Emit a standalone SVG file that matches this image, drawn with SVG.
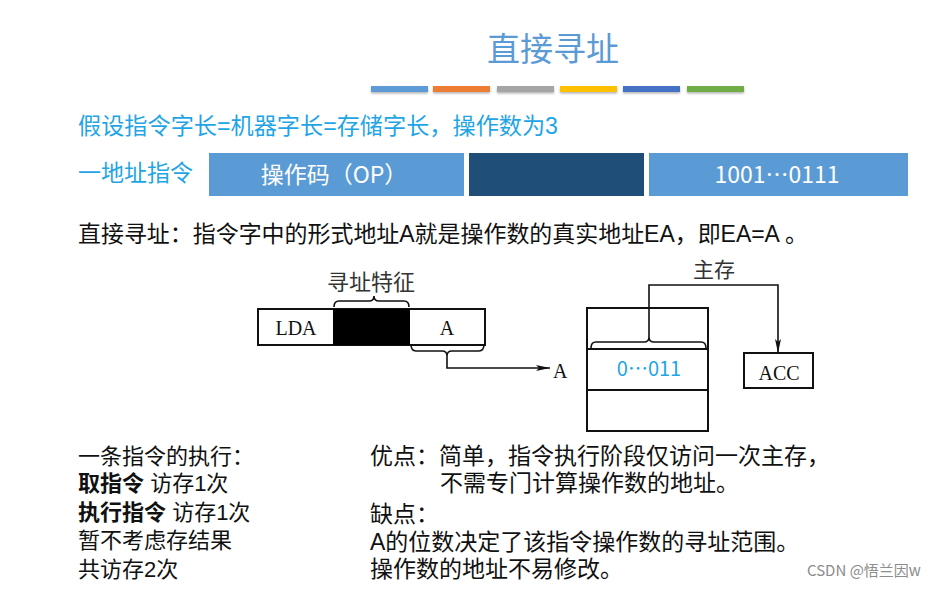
<svg xmlns="http://www.w3.org/2000/svg" width="940" height="589" viewBox="0 0 940 589">
<style>
.cjk{font-family:"Noto Sans CJK SC","Microsoft YaHei",sans-serif;}
.body{font-family:"Liberation Sans","Noto Sans CJK SC",sans-serif;}
.cyan{fill:#1FA5E6;}
.blk{fill:#111;}
.ser{font-family:"Liberation Serif","Times New Roman",serif;fill:#111;font-size:20px;}
.ln{fill:none;stroke:#111;stroke-width:2;}
.thin{fill:none;stroke:#111;stroke-width:1.6;}
.wt{fill:#fff;}
</style>
<defs>
<marker id="ah" viewBox="0 0 14 6" refX="14" refY="3" markerWidth="14" markerHeight="6" markerUnits="userSpaceOnUse" orient="auto">
<path d="M0,0 L14,3 L0,6 L3,3 Z" fill="#111"/>
</marker>
<filter id="sh" x="-10%" y="-50%" width="120%" height="250%">
<feDropShadow dx="0" dy="1.5" stdDeviation="1" flood-color="#000" flood-opacity="0.3"/>
</filter>
</defs>
<rect width="940" height="589" fill="#fff"/>

<g id="title">
<text class="cjk" x="553" y="61" font-size="33" text-anchor="middle" fill="#5B9BD5">直接寻址</text>
<g filter="url(#sh)">
<rect x="371" y="86" width="57" height="6" fill="#5B9BD5"/>
<rect x="433" y="86" width="57" height="6" fill="#ED7D31"/>
<rect x="497" y="86" width="57" height="6" fill="#A5A5A5"/>
<rect x="560" y="86" width="57" height="6" fill="#FFC000"/>
<rect x="623" y="86" width="57" height="6" fill="#4472C4"/>
<rect x="687" y="86" width="57" height="6" fill="#70AD47"/>
</g>
</g>

<g id="assumption">
<text class="body cyan" x="78" y="134" font-size="23" textLength="480" lengthAdjust="spacingAndGlyphs">假设指令字长=机器字长=存储字长，操作数为3</text>
</g>

<g id="instr-format">
<text class="body cyan" x="78" y="181" font-size="23">一地址指令</text>
<rect x="209" y="153" width="255" height="43" fill="#5B9BD5"/>
<rect x="469" y="153" width="175" height="43" fill="#1F4E79"/>
<rect x="649" y="153" width="259" height="43" fill="#5B9BD5"/>
<text class="cjk wt" x="334" y="183" font-size="23" text-anchor="middle">操作码（OP）</text>
<text class="cjk wt" x="777" y="183" font-size="23" text-anchor="middle">1001⋯0111</text>
</g>

<g id="definition">
<text class="body blk" x="78" y="242" font-size="23" textLength="730" lengthAdjust="spacingAndGlyphs">直接寻址：指令字中的形式地址A就是操作数的真实地址EA，即EA=A 。</text>
</g>

<g id="instruction">
<rect x="258" y="309" width="227" height="36" class="ln"/>
<rect x="333" y="309" width="77" height="36" fill="#000"/>
<text class="ser" x="296" y="335" text-anchor="middle">LDA</text>
<text class="ser" x="447" y="335" text-anchor="middle">A</text>
<text class="cjk" x="371" y="290" font-size="22" text-anchor="middle" fill="#333">寻址特征</text>
</g>

<g id="memory">
<rect x="587" y="308" width="121" height="123" class="ln"/>
<line x1="587" y1="349" x2="708" y2="349" class="ln"/>
<line x1="587" y1="390" x2="708" y2="390" class="ln"/>
<text class="cjk" x="649" y="376" font-size="20" text-anchor="middle" fill="#1FA5E6">0…011</text>
<text class="cjk" x="714" y="277" font-size="21" text-anchor="middle" fill="#333">主存</text>
</g>

<g id="acc">
<rect x="744" y="353" width="69" height="35" class="ln"/>
<text class="ser" x="779" y="380" text-anchor="middle">ACC</text>
</g>

<g id="label-A">
<text class="ser" x="553" y="378">A</text>
</g>

<g id="connectors">
<path class="thin" d="M334,307 Q334,301 339,301 L369,301 Q374,301 374,296 Q374,301 379,301 L404,301 Q409,301 409,307"/>
<path class="thin" d="M411,344 Q411,351 416,351 L442,351 Q447,351 447,356 Q447,351 452,351 L479,351 Q484,351 484,344"/>
<path class="thin" d="M447,356 L447,368 L550,368" marker-end="url(#ah)"/>
<path class="thin" d="M591,348 Q591,342 596,342 L644,342 Q649,342 649,337 Q649,342 654,342 L701,342 Q706,342 706,348"/>
<path class="thin" d="M649,337 L649,285 L778,285 L778,353" marker-end="url(#ah)"/>
</g>

<g id="execution">
<text class="body blk" x="78" y="464" font-size="22">一条指令的执行：</text>
<text class="body blk" x="78" y="491" font-size="22"><tspan font-weight="bold">取指令</tspan> 访存1次</text>
<text class="body blk" x="78" y="520" font-size="22"><tspan font-weight="bold">执行指令</tspan> 访存1次</text>
<text class="body blk" x="78" y="548" font-size="22">暂不考虑存结果</text>
<text class="body blk" x="78" y="577" font-size="22">共访存2次</text>
</g>

<g id="pros-cons">
<text class="body blk" x="370" y="464" font-size="23">优点：简单，指令执行阶段仅访问一次主存，</text>
<text class="body blk" x="440" y="491" font-size="23">不需专门计算操作数的地址。</text>
<text class="body blk" x="370" y="522" font-size="23">缺点：</text>
<text class="body blk" x="370" y="550" font-size="23">A的位数决定了该指令操作数的寻址范围。</text>
<text class="body blk" x="370" y="577" font-size="23">操作数的地址不易修改。</text>
</g>

<g id="credit">
<text class="cjk" x="807" y="576" font-size="15" fill="#8C8C8C">CSDN @悟兰因w</text>
</g>
</svg>
